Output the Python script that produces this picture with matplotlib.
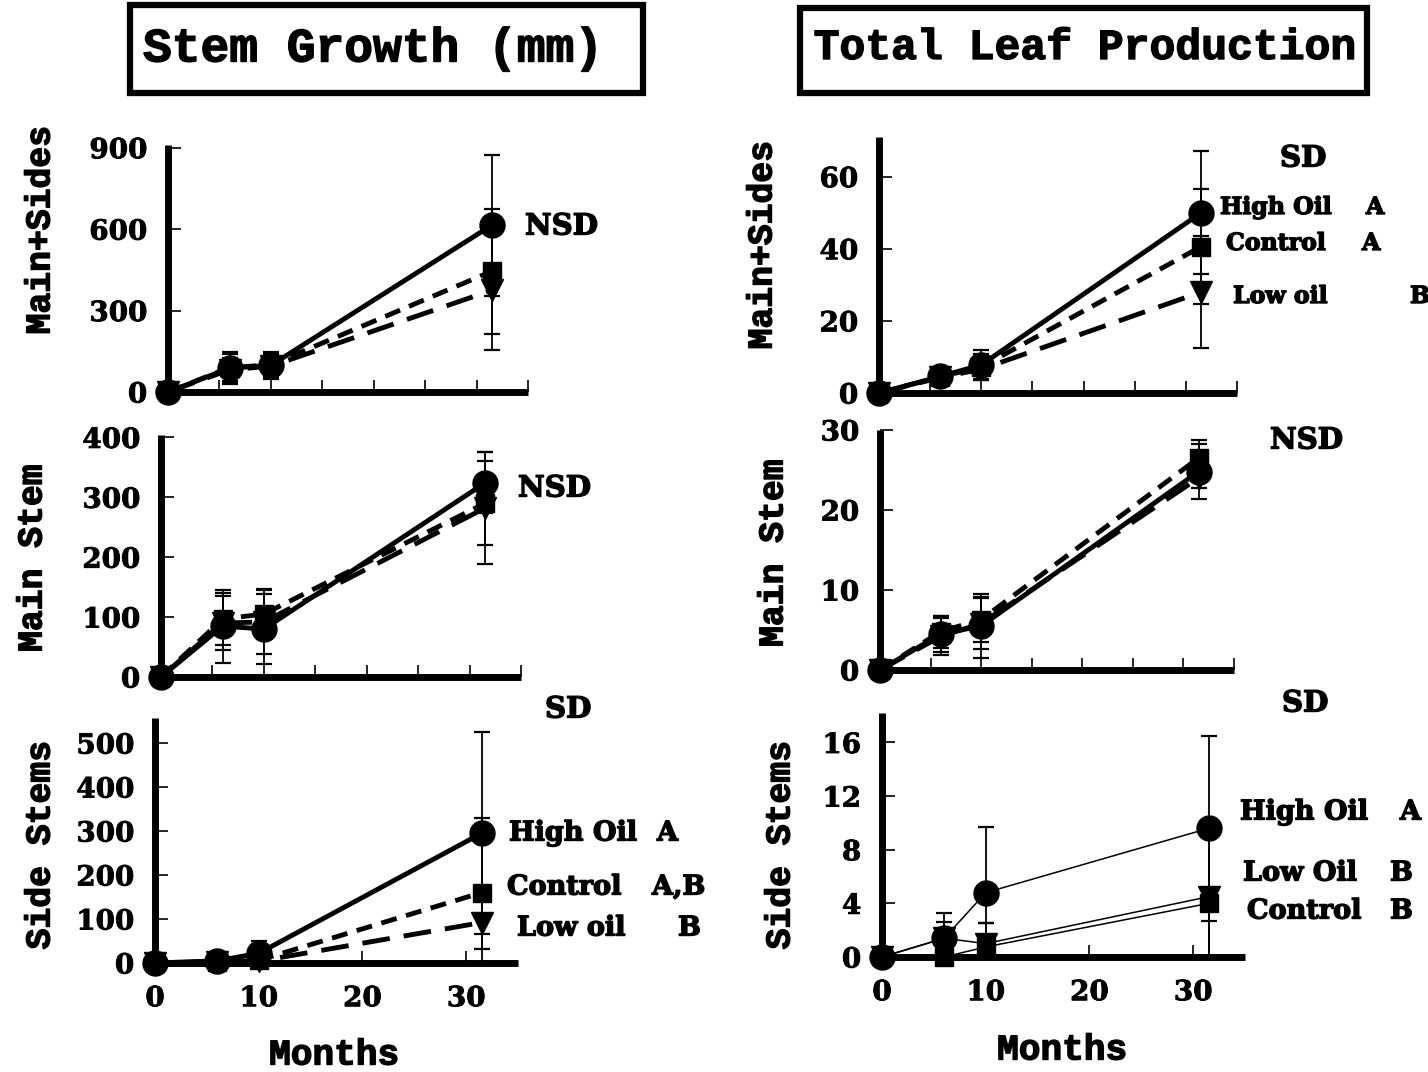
import matplotlib
matplotlib.use("Agg")
import matplotlib.pyplot as plt
import matplotlib.patheffects as pe
from matplotlib.patches import Rectangle

# months after treatment
months = [0, 6, 10, 31.5]

# ---- stem growth (mm) ----
stem_all_high = [0, 88, 98, 615]
stem_all_high_err = [0, 60, 49, 260]
stem_all_ctrl = [0, 90, 100, 445]
stem_all_ctrl_err = [0, 50, 40, 230]
stem_all_low = [0, 82, 95, 375]
stem_all_low_err = [0, 45, 40, 220]

stem_main_high = [0, 85, 80, 324]
stem_main_high_err = [0, 61, 58, 51]
stem_main_ctrl = [0, 97, 105, 290]
stem_main_ctrl_err = [0, 44, 42, 70]
stem_main_low = [0, 90, 92, 282]
stem_main_low_err = [0, 45, 53, 94]

stem_side_high = [0, 5, 22, 295]
stem_side_high_err = [0, 4, 27, 230]
stem_side_ctrl = [0, 3, 6, 160]
stem_side_ctrl_err = [0, 3, 5, 170]
stem_side_low = [0, 2, 4, 92]
stem_side_low_err = [0, 2, 4, 60]

# ---- total leaf production ----
leaf_all_high = [0, 4.6, 7.8, 50]
leaf_all_high_err = [0, 1.4, 4.0, 17]
leaf_all_ctrl = [0, 4.5, 7.2, 40.6]
leaf_all_ctrl_err = [0, 1.2, 3.5, 16]
leaf_all_low = [0, 4.3, 6.6, 28]
leaf_all_low_err = [0, 1.2, 3.0, 15.5]

leaf_main_high = [0, 4.5, 5.5, 24.8]
leaf_main_high_err = [0, 2.2, 4.0, 3.4]
leaf_main_ctrl = [0, 4.8, 6.3, 26.5]
leaf_main_ctrl_err = [0, 2.0, 2.8, 2.2]
leaf_main_low = [0, 4.2, 5.8, 24.0]
leaf_main_low_err = [0, 2.3, 3.2, 1.2]

leaf_side_high = [0, 1.4, 4.8, 9.6]
leaf_side_high_err = [0, 1.9, 4.9, 6.9]
leaf_side_low = [0, 1.4, 1.0, 4.5]
leaf_side_low_err = [0, 1.2, 1.5, 5.0]
leaf_side_ctrl = [0, 0.0, 0.75, 4.0]
leaf_side_ctrl_err = [0, 0.0, 1.75, 5.2]

W, H = 1428, 1072
plt.rcParams['font.family'] = 'DejaVu Serif'
plt.rcParams['font.weight'] = 'bold'

fig = plt.figure(figsize=(W / 100, H / 100), dpi=100)

MONO = 'Liberation Mono'
HEAVY = [pe.withStroke(linewidth=1.0, foreground='black')]


def ftext(x, y, s, size=20, ha='left', family=None, heavy=True, **kw):
    # place text by pixel position (from top-left)
    t = fig.text(x / W, 1 - y / H, s, ha=ha, va='center', fontsize=size,
                 fontweight='bold', family=family, **kw)
    if heavy:
        t.set_path_effects(HEAVY)
    return t


# series styles: marker, size, dashes
HIGH = ('o', 18, None)
CTRL = ('s', 13.5, (3.3, 2.0))
LOW = ('v', 15.5, (5.7, 2.9))


def panel(box, ymax, yticks, xticks, xlabels, series, lw=3.5):
    x0, y0, x1, ytop = box
    ax = fig.add_axes([x0 / W, 1 - y0 / H, (x1 - x0) / W, (y0 - ytop) / H])
    ax.set_xlim(0, 35)
    ax.set_ylim(0, ymax)
    for s in ('top', 'right'):
        ax.spines[s].set_visible(False)
    for s in ('left', 'bottom'):
        ax.spines[s].set_linewidth(5)
        ax.spines[s].set_capstyle('butt')
    ax.set_yticks(yticks)
    ax.set_xticks(xticks)
    if xlabels:
        ax.set_xticklabels([str(t) for t in xticks])
    else:
        ax.set_xticklabels([])
    ax.tick_params(direction='in', length=9, width=1.2, labelsize=20, pad=16)
    ax.tick_params(axis='y', pad=15)
    for lab in ax.get_xticklabels() + ax.get_yticklabels():
        lab.set_path_effects([pe.withStroke(linewidth=0.6, foreground='black')])
    ax.patch.set_alpha(0)

    for vals, errs, style in series:
        mk, ms, dash = style
        if dash is None or lw < 2:
            ax.plot(months, vals, color='black', lw=lw, zorder=2,
                    solid_capstyle='butt')
        else:
            ax.plot(months, vals, color='black', lw=lw, dashes=dash, zorder=2,
                    dash_capstyle='butt')
        ax.errorbar(months, vals, yerr=errs, fmt='none', ecolor='black',
                    elinewidth=1.3, capsize=6, capthick=1.6, zorder=3)
        ax.plot(months, vals, ls='none', marker=mk, ms=ms, color='black',
                zorder=4, clip_on=False)
    return ax


# left column: stem growth
panel((168, 392, 528, 145), 910, [0, 300, 600, 900], range(0, 36, 5), False,
      [(stem_all_low, stem_all_low_err, LOW),
       (stem_all_ctrl, stem_all_ctrl_err, CTRL),
       (stem_all_high, stem_all_high_err, HIGH)])
panel((161, 677, 521, 435), 404, [0, 100, 200, 300, 400], range(0, 36, 5), False,
      [(stem_main_low, stem_main_low_err, LOW),
       (stem_main_ctrl, stem_main_ctrl_err, CTRL),
       (stem_main_high, stem_main_high_err, HIGH)])
panel((155, 963, 518, 718), 557, [0, 100, 200, 300, 400, 500], [0, 10, 20, 30], True,
      [(stem_side_low, stem_side_low_err, LOW),
       (stem_side_ctrl, stem_side_ctrl_err, CTRL),
       (stem_side_high, stem_side_high_err, HIGH)])

# right column: leaf production
panel((879, 393, 1237, 137), 71, [0, 20, 40, 60], range(0, 36, 5), False,
      [(leaf_all_low, leaf_all_low_err, LOW),
       (leaf_all_ctrl, leaf_all_ctrl_err, CTRL),
       (leaf_all_high, leaf_all_high_err, HIGH)])
panel((880, 670, 1234, 430), 30, [0, 10, 20, 30], range(0, 36, 5), False,
      [(leaf_main_low, leaf_main_low_err, LOW),
       (leaf_main_ctrl, leaf_main_ctrl_err, CTRL),
       (leaf_main_high, leaf_main_high_err, HIGH)])
panel((882, 957, 1245, 713), 18.2, [0, 4, 8, 12, 16], [0, 10, 20, 30], True,
      [(leaf_side_low, leaf_side_low_err, LOW),
       (leaf_side_ctrl, leaf_side_ctrl_err, CTRL),
       (leaf_side_high, leaf_side_high_err, HIGH)], lw=1.1)

# boxed column titles
fig.add_artist(Rectangle((130 / W, 1 - 93 / H), 513 / W, 88 / H, fill=False,
                         lw=4.5, ec='black', transform=fig.transFigure))
fig.add_artist(Rectangle((800 / W, 1 - 93 / H), 567 / W, 85 / H, fill=False,
                         lw=4.5, ec='black', transform=fig.transFigure))
ftext(373, 49, 'Stem Growth (mm)', size=34.5, ha='center', family=MONO)
ftext(1084, 48, 'Total Leaf Production', size=31, ha='center', family=MONO)

# axis labels
for x, y, s in [(40, 230, 'Main+Sides'), (32, 558, 'Main Stem'),
                (40, 845, 'Side Stems'), (762, 245, 'Main+Sides'),
                (773, 553, 'Main Stem'), (780, 845, 'Side Stems')]:
    ftext(x, y, s, size=25, ha='center', family=MONO, rotation=90,
          rotation_mode='anchor')
ftext(334, 1055, 'Months', size=26, ha='center', family=MONO)
ftext(1062, 1050, 'Months', size=26, ha='center', family=MONO)

# significance notes
ftext(525, 226, 'NSD', size=21)
ftext(518, 488, 'NSD', size=21)
ftext(545, 709, 'SD', size=21)
ftext(509, 833, 'High Oil', size=19.5)
ftext(657, 833, 'A', size=19.5)
ftext(507, 887, 'Control', size=19.5)
ftext(652, 887, 'A,B', size=19.5)
ftext(517, 928, 'Low oil', size=19.5)
ftext(678, 928, 'B', size=19.5)

ftext(1280, 158, 'SD', size=21)
ftext(1220, 207, 'High Oil', size=17)
ftext(1366, 207, 'A', size=17)
ftext(1226, 243, 'Control', size=17)
ftext(1362, 243, 'A', size=17)
ftext(1233, 296, 'Low oil', size=17)
ftext(1410, 296, 'B', size=17)

ftext(1270, 440, 'NSD', size=21)
ftext(1282, 703, 'SD', size=21)
ftext(1240, 812, 'High Oil', size=19.5)
ftext(1400, 812, 'A', size=19.5)
ftext(1243, 873, 'Low Oil', size=19.5)
ftext(1390, 873, 'B', size=19.5)
ftext(1247, 911, 'Control', size=19.5)
ftext(1390, 911, 'B', size=19.5)

fig.savefig('out.png', dpi=100, facecolor='white')
